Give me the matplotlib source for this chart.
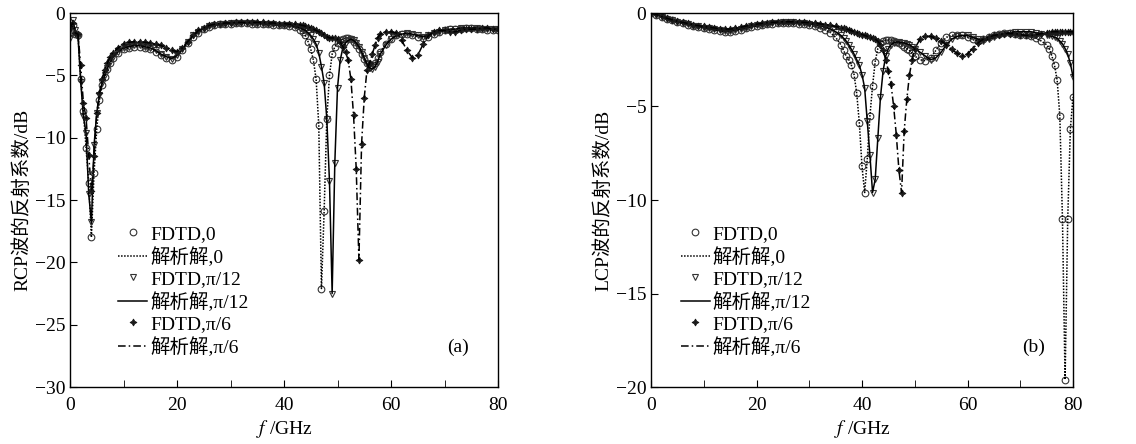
import numpy as np
import matplotlib
matplotlib.use("Agg")
import matplotlib.pyplot as plt
from matplotlib.ticker import MultipleLocator

plt.rcParams['font.family'] = ['Liberation Serif', 'Noto Sans CJK SC']
plt.rcParams['mathtext.fontset'] = 'stix'
plt.rcParams['axes.unicode_minus'] = True

# frequency grids (GHz), finer around the dips
freq_a = np.concatenate([np.arange(0, 8.01, 0.5), np.arange(9, 43.01, 1),
                         np.arange(43.5, 58.01, 0.5), np.arange(59, 80.01, 1)])
freq_b = np.concatenate([np.arange(0, 36.01, 1), np.arange(36.5, 50.01, 0.5),
                         np.arange(51, 75.01, 1), np.arange(75.5, 80.01, 0.5)])

# (a) RCP reflection, dB
rcp_0 = [-1.6, -1.0, -1.7, -1.8, -5.3, -7.9, -10.8, -13.6, -18.0, -12.8, -9.3, -7.0, -5.8, -5.1, -4.5, -4.0, -3.6,
         -3.2, -2.9, -2.8, -2.7, -2.7, -2.8, -2.9, -3.1, -3.4, -3.6,
         -3.75, -3.5, -3.0, -2.4, -1.9, -1.6, -1.3, -1.1, -1.0, -0.9,
         -0.85, -0.85, -0.8, -0.8, -0.8, -0.85, -0.85, -0.9, -0.9, -0.95,
         -1.0, -1.0, -1.05, -1.15, -1.35,
         -1.5, -1.8, -2.3, -2.9, -3.8, -5.3, -9.0, -22.1, -15.9, -8.5,
         -5.0, -3.3, -2.7, -2.4, -2.2, -2.1, -2.0, -2.0, -2.1, -2.3,
         -2.6, -2.9, -3.3, -3.7, -4.0, -4.2, -4.2, -4.0, -3.6, -3.1,
         -2.5, -2.1, -1.8, -1.7, -1.7, -1.8, -1.9, -2.0, -1.9, -1.7, -1.5,
         -1.4, -1.3, -1.3, -1.3, -1.2, -1.2, -1.3, -1.3, -1.4, -1.4, -1.4]
rcp_12 = [-2.0, -0.6, -1.4, -1.9, -5.5, -8.3, -9.6, -14.5, -16.8, -10.6, -8.0, -6.6, -5.6, -5.0, -4.4, -3.9, -3.5,
          -3.1, -2.8, -2.7, -2.6, -2.6, -2.7, -2.8, -3.0, -3.3, -3.5,
          -3.65, -3.4, -2.9, -2.3, -1.8, -1.5, -1.25, -1.05, -0.95, -0.9,
          -0.85, -0.8, -0.8, -0.8, -0.8, -0.8, -0.85, -0.85, -0.9, -0.9,
          -0.95, -0.95, -1.0, -1.05, -1.2,
          -1.3, -1.4, -1.6, -1.8, -2.1, -2.5, -3.2, -4.3, -5.6, -8.5,
          -13.5, -22.5, -12.0, -6.0, -3.8, -2.8, -2.4, -2.2, -2.1, -2.2,
          -2.4, -2.7, -3.1, -3.6, -4.1, -4.4, -4.5, -4.3, -3.9, -3.3,
          -2.6, -2.1, -1.8, -1.7, -1.6, -1.7, -1.8, -1.9, -1.8, -1.6, -1.5,
          -1.4, -1.3, -1.3, -1.2, -1.2, -1.2, -1.2, -1.3, -1.3, -1.3, -1.3]
rcp_6 = [-1.2, -0.8, -1.6, -1.7, -4.2, -7.2, -8.4, -11.4, -14.3, -11.5, -8.0, -6.4, -5.3, -4.6, -4.0, -3.5, -3.2,
         -2.8, -2.5, -2.35, -2.3, -2.3, -2.35, -2.4, -2.5, -2.6, -2.8,
         -3.0, -3.1, -2.8, -2.3, -1.8, -1.4, -1.2, -1.0, -0.9, -0.85,
         -0.8, -0.8, -0.75, -0.75, -0.75, -0.75, -0.75, -0.75, -0.8, -0.8,
         -0.85, -0.85, -0.9, -0.9, -0.95,
         -1.0, -1.05, -1.1, -1.2, -1.3, -1.4, -1.5, -1.6, -1.75, -1.9,
         -2.0, -2.0, -2.0, -2.1, -2.3, -2.7, -3.1, -3.8, -5.3, -8.2,
         -12.5, -19.8, -10.5, -6.8, -4.6, -4.0, -3.3, -2.6, -2.0, -1.7,
         -1.5, -1.5, -1.6, -2.2, -3.0, -3.6, -3.4, -2.5, -1.8, -1.5, -1.4,
         -1.4, -1.5, -1.5, -1.4, -1.3, -1.3, -1.3, -1.2, -1.2, -1.3, -1.3]

# (b) LCP reflection, dB
lcp_0 = [0.0, -0.1, -0.2, -0.3, -0.4, -0.5, -0.55, -0.62, -0.7, -0.75,
         -0.8, -0.85, -0.9, -0.95, -1.0, -1.0, -0.95, -0.9, -0.8, -0.75,
         -0.7, -0.65, -0.6, -0.58, -0.55, -0.55, -0.55, -0.55, -0.58, -0.6,
         -0.65, -0.72, -0.8, -0.9, -1.05, -1.3, -1.7,
         -2.0, -2.3, -2.5, -2.8, -3.3, -4.3, -5.9, -8.2, -9.6, -7.8,
         -5.5, -3.9, -2.6, -1.9, -1.6, -1.5, -1.45, -1.45, -1.45, -1.5,
         -1.55, -1.6, -1.7, -1.8, -1.9, -2.0, -2.15, -2.3,
         -2.5, -2.55, -2.4, -2.0, -1.6, -1.3, -1.2, -1.15, -1.2, -1.3,
         -1.4, -1.5, -1.4, -1.3, -1.2, -1.1, -1.05, -1.05, -1.1, -1.15,
         -1.2, -1.25, -1.35, -1.5, -1.7,
         -1.9, -2.3, -2.8, -3.6, -5.5, -11.0, -19.6, -11.0, -6.2, -4.5]
lcp_12 = [0.0, -0.1, -0.2, -0.3, -0.4, -0.48, -0.55, -0.6, -0.68, -0.72,
          -0.78, -0.82, -0.88, -0.92, -0.95, -0.95, -0.9, -0.85, -0.78, -0.72,
          -0.66, -0.62, -0.58, -0.55, -0.52, -0.5, -0.5, -0.5, -0.52, -0.55,
          -0.58, -0.62, -0.68, -0.75, -0.85, -1.0, -1.2,
          -1.35, -1.5, -1.7, -1.95, -2.2, -2.5, -2.8, -3.3, -4.0, -5.8,
          -7.6, -9.6, -8.9, -6.7, -4.5, -3.1, -2.3, -1.9, -1.7, -1.6,
          -1.55, -1.55, -1.6, -1.6, -1.65, -1.7, -1.8, -1.9,
          -2.1, -2.3, -2.5, -2.4, -2.1, -1.7, -1.4, -1.25, -1.2, -1.2,
          -1.3, -1.4, -1.5, -1.4, -1.3, -1.2, -1.1, -1.05, -1.0, -1.0,
          -1.0, -1.0, -1.05, -1.1, -1.15,
          -1.2, -1.25, -1.3, -1.35, -1.5, -1.65, -1.9, -2.2, -2.7, -3.4]
lcp_6 = [0.0, -0.08, -0.18, -0.28, -0.36, -0.44, -0.5, -0.56, -0.62, -0.68,
         -0.72, -0.76, -0.8, -0.84, -0.86, -0.86, -0.82, -0.76, -0.7, -0.64,
         -0.6, -0.56, -0.52, -0.5, -0.48, -0.47, -0.47, -0.47, -0.48, -0.5,
         -0.52, -0.55, -0.58, -0.62, -0.66, -0.72, -0.78,
         -0.82, -0.86, -0.9, -0.95, -1.0, -1.05, -1.1, -1.15, -1.2, -1.25,
         -1.3, -1.35, -1.4, -1.5, -1.7, -2.0, -2.5, -3.1, -3.8, -5.0,
         -6.5, -8.4, -9.6, -6.3, -4.6, -3.3, -2.5, -1.9,
         -1.4, -1.25, -1.25, -1.35, -1.5, -1.7, -1.95, -2.15, -2.3, -2.2,
         -1.9, -1.6, -1.4, -1.3, -1.2, -1.15, -1.1, -1.1, -1.1, -1.15,
         -1.2, -1.2, -1.15, -1.1, -1.05,
         -1.05, -1.0, -1.0, -1.0, -1.0, -1.0, -1.0, -1.0, -1.0, -1.0]

angles = ['0', 'π/12', 'π/6']
markers = ['o', 'v', (4, 1, 0)]
linestyles = [(0, (1, 1)), '-', (0, (5, 2, 1, 2))]

FS = 14


def draw_panel(ax, f, series, ymin, ylabel, tag, leg_x):
    for vals, ang, mk, ls in zip(series, angles, markers, linestyles):
        if mk == 'o' or mk == 'v':
            ax.plot(f, vals, linestyle='none', marker=mk, ms=4.8, mfc='none',
                    mec='0.2', mew=0.8, label='FDTD,' + ang)
        else:
            ax.plot(f, vals, linestyle='none', marker=mk, ms=5, mfc='0.1',
                    mec='0.1', mew=0.6, label='FDTD,' + ang)
        ax.plot(f, vals, linestyle=ls, color='black', lw=1.1, label='解析解,' + ang)
    ax.set_xlim(0, 80)
    ax.set_ylim(ymin, 0)
    ax.xaxis.set_major_locator(MultipleLocator(20))
    ax.xaxis.set_minor_locator(MultipleLocator(10))
    ax.yaxis.set_major_locator(MultipleLocator(5))
    ax.tick_params(direction='in', length=5, labelsize=FS, top=False, right=False)
    ax.tick_params(axis='x', pad=7)
    ax.tick_params(which='minor', direction='in', length=5, top=False, right=False)
    ax.set_xlabel(r'$f$ /GHz', fontsize=FS, labelpad=3)
    ax.set_ylabel(ylabel, fontsize=FS, labelpad=2)
    for s in ax.spines.values():
        s.set_linewidth(1.0)
    ax.text(72.5, ymin * 0.105 + ymin * 0.79, tag, fontsize=FS, ha='center', va='center')
    ax.legend(loc='lower left', bbox_to_anchor=(leg_x, 0.06), frameon=False,
              fontsize=FS, handlelength=1.5, handletextpad=0.15, labelspacing=0.2,
              borderaxespad=0.0)


fig = plt.figure(figsize=(11.36, 4.44), dpi=100)
ax1 = fig.add_axes([70 / 1136, 57 / 444, 428 / 1136, 374 / 444])
ax2 = fig.add_axes([651 / 1136, 57 / 444, 422 / 1136, 374 / 444])

draw_panel(ax1, freq_a, [rcp_0, rcp_12, rcp_6], -30, 'RCP波的反射系数/dB', '(a)', 0.094)
draw_panel(ax2, freq_b, [lcp_0, lcp_12, lcp_6], -20, 'LCP波的反射系数/dB', '(b)', 0.052)

fig.savefig('out.png', dpi=100)
